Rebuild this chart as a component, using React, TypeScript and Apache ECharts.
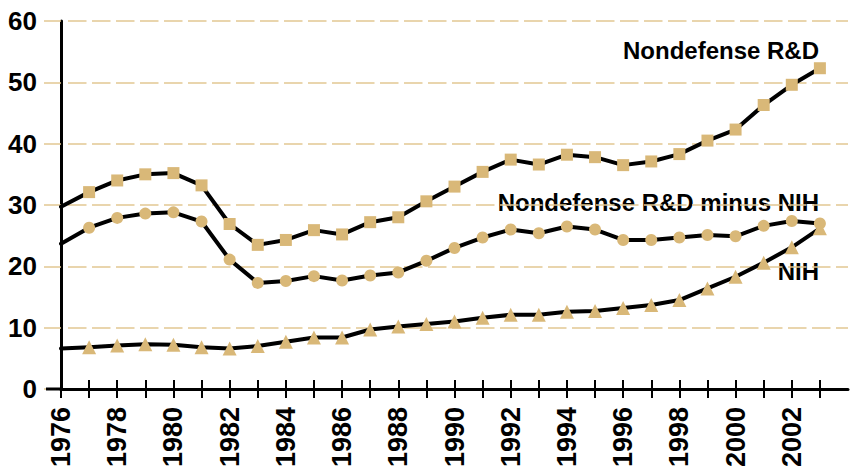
import React, { useEffect, useRef } from "react";
import * as echarts from "echarts";

const years = [
  "1976", "1977", "1978", "1979", "1980", "1981", "1982", "1983", "1984", "1985",
  "1986", "1987", "1988", "1989", "1990", "1991", "1992", "1993", "1994", "1995",
  "1996", "1997", "1998", "1999", "2000", "2001", "2002", "2003", "2004",
];

const nondefense = [
  29.7, 32.1, 34.0, 35.0, 35.2, 33.2, 26.9, 23.5, 24.3, 25.9,
  25.2, 27.2, 28.0, 30.6, 33.0, 35.4, 37.4, 36.6, 38.2, 37.8,
  36.5, 37.1, 38.3, 40.5, 42.3, 46.3, 49.6, 52.3,
];

const minusNih = [
  23.7, 26.3, 27.9, 28.6, 28.8, 27.3, 21.1, 17.3, 17.6, 18.4,
  17.7, 18.5, 19.0, 20.9, 23.0, 24.7, 26.0, 25.4, 26.5, 26.0,
  24.3, 24.3, 24.7, 25.1, 24.9, 26.6, 27.4, 27.0,
];

const nih = [
  6.6, 6.8, 7.1, 7.3, 7.2, 6.8, 6.6, 7.0, 7.7, 8.4,
  8.4, 9.7, 10.2, 10.6, 11.0, 11.6, 12.1, 12.1, 12.6, 12.7,
  13.2, 13.7, 14.5, 16.4, 18.3, 20.6, 23.1, 26.2,
];

const seriesNames = ["Nondefense R&D", "Nondefense R&D minus NIH", "NIH"];

const TAN = "#D9B878";
const GRID_TAN = "#E2C792";
const FONT = "'Liberation Sans', Arial, Helvetica, sans-serif";

const W = 851;
const H = 468;
const GRID = { left: 61, right: 3, top: 21, bottom: 79 };

function toData(values: number[]) {
  return values.map((v, i) => (i === 0 ? { value: v, symbol: "none" } : v));
}

export default function App() {
  const ref = useRef<HTMLDivElement>(null);

  useEffect(() => {
    document.body.style.margin = "0";
    if (!ref.current) return;
    const chart = echarts.init(ref.current, null, { renderer: "svg" });

    const lineSeries = (name: string, values: number[], symbol: string, size: number) => ({
      name,
      type: "line",
      xAxisIndex: 0,
      yAxisIndex: 0,
      data: toData(values),
      symbol,
      symbolSize: size,
      showSymbol: true,
      itemStyle: { color: TAN, borderWidth: 0 },
      lineStyle: { color: "#000", width: 4, join: "round", cap: "round" },
      emphasis: { disabled: true },
    });

    const axisY = H - GRID.bottom;

    chart.setOption({
      animation: false,
      grid: { ...GRID, containLabel: false, outerBoundsMode: "none" },
      xAxis: [
        {
          type: "category",
          data: years,
          boundaryGap: false,
          position: "bottom",
          axisLine: { show: true, onZero: false, lineStyle: { color: "#000", width: 3 } },
          axisTick: {
            show: true,
            inside: false,
            length: 9,
            interval: (i: number) => i < 28,
            lineStyle: { color: "#000", width: 2 },
          },
          axisLabel: {
            show: true,
            rotate: 90,
            margin: 18,
            interval: (i: number) => i % 2 === 0 && i < 28,
            color: "#000",
            fontFamily: FONT,
            fontWeight: "bold",
            fontSize: 27,
          },
          splitLine: { show: false },
        },
        {
          type: "category",
          data: years,
          boundaryGap: false,
          position: "bottom",
          axisLine: { show: false, onZero: false },
          axisTick: {
            show: true,
            inside: true,
            length: 9,
            interval: (i: number) => i < 28,
            lineStyle: { color: "#000", width: 2 },
          },
          axisLabel: { show: false },
          splitLine: { show: false },
        },
      ],
      yAxis: {
        type: "value",
        min: 0,
        max: 60,
        interval: 10,
        axisLine: { show: true, lineStyle: { color: "#000", width: 3 } },
        axisTick: { show: true, length: 17, lineStyle: { color: GRID_TAN, width: 1.5 } },
        axisLabel: {
          margin: 24,
          color: "#000",
          fontFamily: FONT,
          fontWeight: "bold",
          fontSize: 26,
        },
        splitLine: {
          show: true,
          lineStyle: { color: GRID_TAN, width: 1.5, type: [18.5, 5.5], dashOffset: 17 },
        },
      },
      series: [
        lineSeries(seriesNames[0], nondefense, "rect", 12),
        lineSeries(seriesNames[1], minusNih, "circle", 12),
        lineSeries(seriesNames[2], nih, "triangle", 14),
      ],
      graphic: [
        {
          type: "text",
          right: W - 819,
          top: 38,
          style: { text: seriesNames[0], font: `bold 24px ${FONT}`, fill: "#000" },
        },
        {
          type: "text",
          right: W - 819,
          top: 190,
          style: { text: seriesNames[1], font: `bold 24px ${FONT}`, fill: "#000" },
        },
        {
          type: "text",
          right: W - 819,
          top: 259,
          style: { text: seriesNames[2], font: `bold 24px ${FONT}`, fill: "#000" },
        },
        {
          type: "line",
          shape: { x1: 46, y1: axisY, x2: GRID.left, y2: axisY },
          style: { stroke: "#000", lineWidth: 3 },
          z: 10,
        },
      ],
    });

    return () => chart.dispose();
  }, []);

  return <div ref={ref} style={{ width: W, height: H }} />;
}
